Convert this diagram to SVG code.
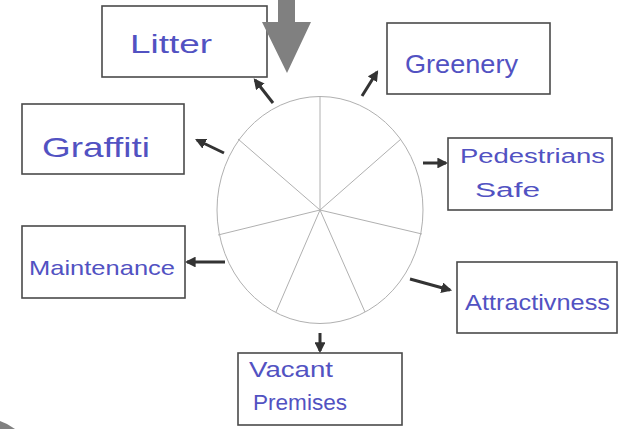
<svg xmlns="http://www.w3.org/2000/svg" width="619" height="429" viewBox="0 0 619 429">
<style>
.box{fill:#fff;stroke:#4a4a4a;stroke-width:1.6}
.lbl{font-family:"Liberation Sans",Arial,sans-serif;fill:#5252c2;text-anchor:start}
.arr{stroke:#333;stroke-width:3;fill:none;marker-end:url(#ah)}
.wheel{fill:none;stroke:#b0b0b0;stroke-width:1}
</style>
<defs>
<marker id="ah" viewBox="0 0 10 10" refX="8" refY="5" markerWidth="3.6" markerHeight="3.6" orient="auto">
<path d="M0,0 L10,5 L0,10 Z" fill="#333"/>
</marker>
</defs>
<rect width="619" height="429" fill="#fff"/>
<g id="wheel" class="wheel">
<ellipse cx="320" cy="210" rx="103" ry="113.5"/>
<line x1="320" y1="210" x2="320" y2="96"/>
<line x1="320" y1="210" x2="401" y2="139"/>
<line x1="320" y1="210" x2="422" y2="234"/>
<line x1="320" y1="210" x2="365" y2="312"/>
<line x1="320" y1="210" x2="276" y2="312"/>
<line x1="320" y1="210" x2="218" y2="235"/>
<line x1="320" y1="210" x2="238" y2="139"/>
</g>
<g id="connectors">
<line class="arr" x1="273" y1="103" x2="255" y2="80"/>
<line class="arr" x1="224" y1="153" x2="197" y2="140"/>
<line class="arr" x1="362" y1="96" x2="377" y2="72"/>
<line class="arr" x1="423" y1="163" x2="446" y2="163"/>
<line class="arr" x1="225" y1="262" x2="187" y2="262"/>
<line class="arr" x1="410" y1="279" x2="450" y2="290"/>
<line class="arr" x1="320" y1="333" x2="320" y2="351"/>
</g>
<g id="litter"><rect class="box" x="102" y="6" width="165" height="71"/><text class="lbl" x="130" y="53" font-size="26" textLength="82" lengthAdjust="spacingAndGlyphs">Litter</text></g>
<g id="graffiti"><rect class="box" x="22" y="104" width="162" height="70"/><text class="lbl" x="42" y="157" font-size="28" textLength="108" lengthAdjust="spacingAndGlyphs">Graffiti</text></g>
<g id="greenery"><rect class="box" x="387" y="23" width="163" height="71"/><text class="lbl" x="405" y="73" font-size="26" textLength="113" lengthAdjust="spacingAndGlyphs">Greenery</text></g>
<g id="pedestrians"><rect class="box" x="448" y="138" width="164" height="72"/><text class="lbl" x="460" y="163" font-size="20" textLength="145" lengthAdjust="spacingAndGlyphs">Pedestrians</text><text class="lbl" x="475" y="197" font-size="20" textLength="65" lengthAdjust="spacingAndGlyphs">Safe</text></g>
<g id="maintenance"><rect class="box" x="22" y="226" width="163" height="72"/><text class="lbl" x="29" y="275" font-size="21" textLength="146" lengthAdjust="spacingAndGlyphs">Maintenance</text></g>
<g id="attractivness"><rect class="box" x="457" y="262" width="160" height="71"/><text class="lbl" x="465" y="310" font-size="22" textLength="145" lengthAdjust="spacingAndGlyphs">Attractivness</text></g>
<g id="vacant"><rect class="box" x="238" y="353" width="164" height="72"/><text class="lbl" x="249" y="377" font-size="22" textLength="84" lengthAdjust="spacingAndGlyphs">Vacant</text><text class="lbl" x="253" y="410" font-size="22" textLength="94" lengthAdjust="spacingAndGlyphs">Premises</text></g>
<g id="overlay" fill="#808080">
<polygon points="278,0 295,0 295,22 311,22 287,73 262,22 278,22"/>
<polygon points="0,421 7,424 15,429 0,429"/>
</g>
</svg>
